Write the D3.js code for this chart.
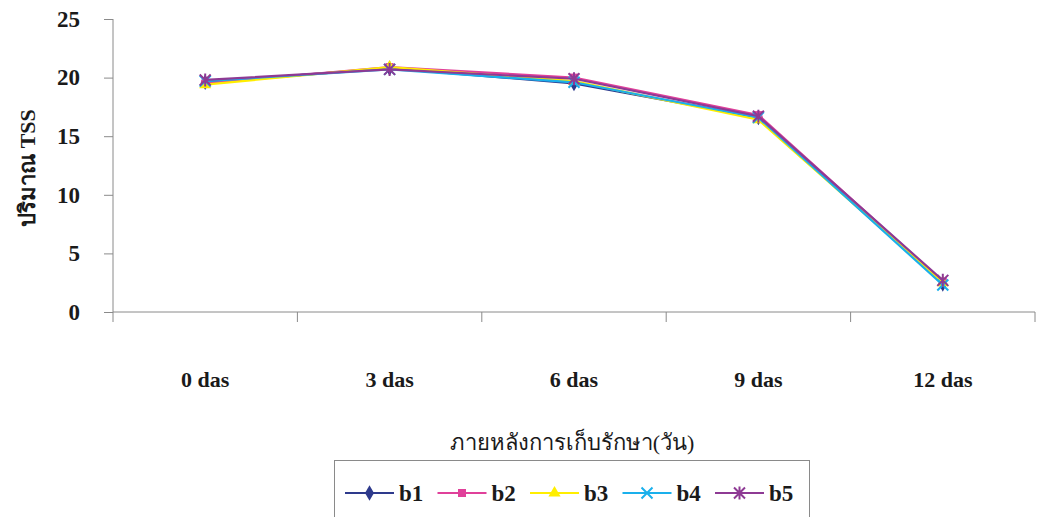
<!DOCTYPE html>
<html>
<head>
<meta charset="utf-8">
<script src="https://cdn.jsdelivr.net/npm/d3@7"></script>
<style>
  html, body { margin: 0; padding: 0; background: #fff; }
  svg { display: block; }
</style>
</head>
<body>
<svg id="chart" width="1037" height="517"></svg>
<script>
// Storage days on the x axis
const categories = ["0 das", "3 das", "6 das", "9 das", "12 das"];
// TSS readings per treatment
const b1 = [19.6, 20.8, 19.5, 16.6, 2.4];
const b2 = [19.5, 20.9, 20.0, 16.8, 2.6];
const b3 = [19.4, 20.9, 19.7, 16.4, 2.5];
const b4 = [19.7, 20.7, 19.6, 16.6, 2.3];
const b5 = [19.8, 20.7, 19.9, 16.7, 2.7];
const seriesNames = ["b1", "b2", "b3", "b4", "b5"];
const yTicks = [0, 5, 10, 15, 20, 25];

const seriesData = [b1, b2, b3, b4, b5];
const colors = ["#2e3a8c", "#e0409a", "#ffee00", "#1ab0ec", "#8e3a94"];
const shapes = ["diamond", "square", "triangle", "x", "star"];

const FONT = '"Liberation Serif"';
const INK = "#1a1a1a";

const svg = d3.select("#chart");
const plot = { left: 113, right: 1035, top: 19, bottom: 312 };

const x = d3.scaleBand().domain(categories).range([plot.left, plot.right]).padding(0);
const y = d3.scaleLinear().domain([0, 25]).range([plot.bottom, plot.top]);

const axisColor = "#8a8a8a";

function label(sel, size, bold) {
  return sel.style("font-family", FONT)
    .style("font-size", size + "px")
    .style("font-weight", bold ? "bold" : "normal")
    .style("fill", INK);
}

// y axis
const yAxis = svg.append("g")
  .attr("transform", `translate(${plot.left},0)`)
  .call(d3.axisLeft(y).tickValues(yTicks).tickSize(9).tickPadding(24));
yAxis.attr("font-family", null);
yAxis.select(".domain").attr("stroke", axisColor).attr("d", `M0,${plot.top}V${plot.bottom}`);
yAxis.selectAll(".tick line").attr("stroke", axisColor);
label(yAxis.selectAll(".tick text"), 23, true);

// x axis with ticks at category boundaries
const xAxis = svg.append("g").attr("transform", `translate(0,${plot.bottom})`);
xAxis.append("line")
  .attr("x1", plot.left).attr("x2", plot.right)
  .attr("stroke", axisColor).attr("stroke-width", 1);
const bounds = categories.map(c => x(c)).concat([x(categories[categories.length - 1]) + x.bandwidth()]);
xAxis.selectAll("line.tk").data(bounds).join("line")
  .attr("class", "tk")
  .attr("x1", d => d).attr("x2", d => d)
  .attr("y1", 0).attr("y2", 10)
  .attr("stroke", axisColor);
label(xAxis.selectAll("text").data(categories).join("text")
  .attr("x", d => x(d) + x.bandwidth() / 2)
  .attr("y", 75)
  .attr("text-anchor", "middle")
  .text(d => d), 22, true);

// axis titles
label(svg.append("text")
  .attr("x", 572).attr("y", 450)
  .attr("text-anchor", "middle")
  .text("ภายหลังการเก็บรักษา(วัน)"), 22, false);
label(svg.append("text")
  .attr("transform", "translate(35,168) rotate(-90)")
  .attr("text-anchor", "middle")
  .text("ปริมาณ TSS"), 22, true);

// marker drawing
function drawMarker(g, shape, color, cx, cy) {
  if (shape === "diamond") {
    g.append("path").attr("d", d3.symbol(d3.symbolDiamond, 70)()).attr("transform", `translate(${cx},${cy})`).attr("fill", color);
  } else if (shape === "square") {
    g.append("path").attr("d", d3.symbol(d3.symbolSquare, 64)()).attr("transform", `translate(${cx},${cy})`).attr("fill", color);
  } else if (shape === "triangle") {
    g.append("path").attr("d", d3.symbol(d3.symbolTriangle, 64)()).attr("transform", `translate(${cx},${cy})`).attr("fill", color);
  } else if (shape === "x") {
    const r = 5.5;
    g.append("path").attr("d", `M${cx - r},${cy - r}L${cx + r},${cy + r}M${cx - r},${cy + r}L${cx + r},${cy - r}`)
      .attr("stroke", color).attr("stroke-width", 2);
  } else if (shape === "star") {
    const r = 5.5;
    g.append("path").attr("d", `M${cx - r},${cy - r}L${cx + r},${cy + r}M${cx - r},${cy + r}L${cx + r},${cy - r}M${cx},${cy - r - 1}L${cx},${cy + r + 1}`)
      .attr("stroke", color).attr("stroke-width", 2);
  }
}

const line = d3.line()
  .x((d, i) => x(categories[i]) + x.bandwidth() / 2)
  .y(d => y(d));

seriesData.forEach((vals, si) => {
  const g = svg.append("g");
  g.append("path").datum(vals)
    .attr("d", line)
    .attr("fill", "none")
    .attr("stroke", colors[si])
    .attr("stroke-width", 2.2);
  vals.forEach((v, i) => {
    drawMarker(g, shapes[si], colors[si], x(categories[i]) + x.bandwidth() / 2, y(v));
  });
});

// legend
const legend = svg.append("g");
legend.append("rect")
  .attr("x", 334.5).attr("y", 460.5).attr("width", 475).attr("height", 70)
  .attr("fill", "none").attr("stroke", axisColor);
const legendStart = 345, legendStep = 92.5, legendY = 493;
seriesNames.forEach((name, i) => {
  const lx = legendStart + i * legendStep;
  legend.append("line")
    .attr("x1", lx).attr("x2", lx + 49).attr("y1", legendY).attr("y2", legendY)
    .attr("stroke", colors[i]).attr("stroke-width", 2.2);
  drawMarker(legend, shapes[i], colors[i], lx + 24.5, legendY);
  label(legend.append("text")
    .attr("x", lx + 54).attr("y", legendY + 8)
    .text(name), 23, true);
});
</script>
</body>
</html>
